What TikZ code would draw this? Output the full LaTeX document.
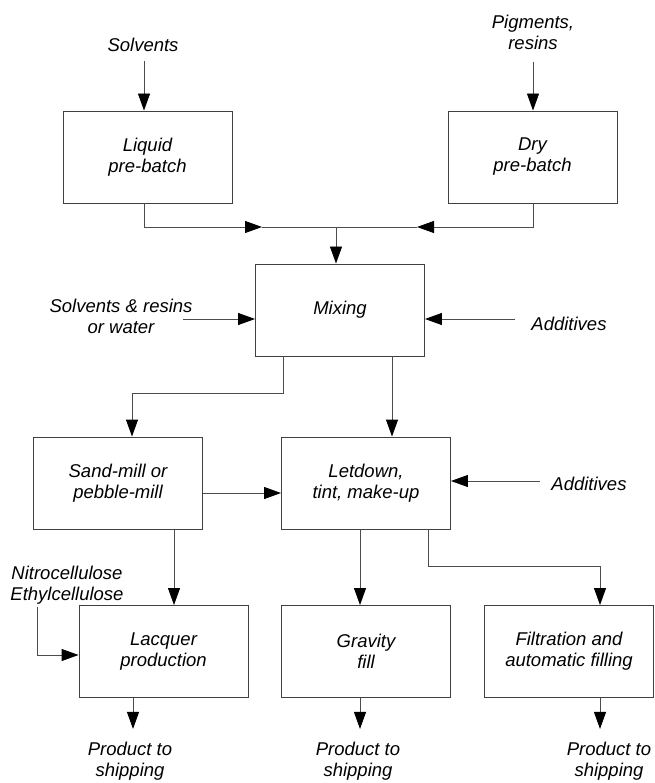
\documentclass[tikz,border=0pt]{standalone}
\usepackage{fontspec}
\setmainfont{Liberation Sans}
\usetikzlibrary{arrows.meta}
\tikzset{lbl/.style={font=\fontsize{18.5pt}{21pt}\selectfont\itshape,align=center},
  box/.style={lbl,draw=black!75,line width=.9pt,minimum width=169pt,minimum height=92pt,inner sep=2pt},
  feed/.style={lbl,inner sep=0pt},
  arrow/.style={draw=black!70,line width=.9pt,-{Triangle[length=17pt,width=12pt,color=black]}}}

\begin{document}
\begin{tikzpicture}[x=1pt,y=-1pt]
  \path[use as bounding box] (0,0) rectangle (654,783);
  % process boxes
  \node[box] (liquid) at (147.5,157) {Liquid\\pre-batch};
  \node[box] (dry) at (532.5,157) {Dry\\pre-batch};
  \node[box] (mixing) at (340,310) {Mixing};
  \node[box] (sand) at (118,483) {Sand-mill or\\pebble-mill};
  \node[box] (letdown) at (366,483) {Letdown,\\tint, make-up};
  \node[box] (lacquer) at (163.5,651.5) {Lacquer\\production};
  \node[box] (gravity) at (366,651.5) {Gravity\\fill};
  \node[box] (filtration) at (569,651.5) {Filtration and\\automatic filling};
  % feeds
  \node[feed] (solv) at (143,45) {Solvents};
  \node[feed] (pigm) at (533,32) {Pigments,\\resins};
  \node[feed] (solvres) at (121,316) {Solvents \& resins\\or water};
  \node[feed] (addA) at (569,324) {Additives};
  \node[feed] (addB) at (589,484) {Additives};
  \node[feed] (nitro) at (67,585) {Nitrocellulose\\Ethylcellulose};
  \node[feed] (prodA) at (130,761) {Product to\\shipping};
  \node[feed] (prodB) at (358,761) {Product to\\shipping};
  \node[feed] (prodC) at (609,761) {Product to\\shipping};
  % free ends
  \coordinate (solvIn) at (144,61);
  \coordinate (pigmIn) at (533,62);
  \coordinate (leftTip) at (262,227);
  \coordinate (rightTip) at (417,227);
  \coordinate (join) at (336,227);
  \coordinate (solvresIn) at (183,319);
  \coordinate (addAIn) at (515,319);
  \coordinate (addBIn) at (540,481);
  \coordinate (millTurn) at (283,393);
  \coordinate (fillTurn) at (428,566);
  \coordinate (nitroIn) at (37,607);
  % connectors
  \draw[arrow] (solvIn) -- (solvIn |- liquid.north);
  \draw[arrow] (pigmIn) -- (pigmIn |- dry.north);
  \draw[arrow] (solvIn |- liquid.south) |- (leftTip);
  \draw[arrow] (pigmIn |- dry.south) |- (rightTip);
  \draw[draw=black!70,line width=.9pt] (leftTip) -- (rightTip);
  \draw[arrow] (join) -- (join |- mixing.north);
  \draw[arrow] (solvresIn) -- (solvresIn -| mixing.west);
  \draw[arrow] (addAIn) -- (addAIn -| mixing.east);
  \draw[arrow] (millTurn |- mixing.south) -- (millTurn) -| ([xshift=14pt]sand.north);
  \draw[arrow] ([xshift=26pt]letdown.north |- mixing.south) -- ([xshift=26pt]letdown.north);
  \draw[arrow] ([yshift=-10pt]sand.east) -- ([yshift=-10pt]sand.east -| letdown.west);
  \draw[arrow] (addBIn) -- (addBIn -| letdown.east);
  \draw[arrow] ([xshift=10.5pt]lacquer.north |- sand.south) -- ([xshift=10.5pt]lacquer.north);
  \draw[arrow] (nitroIn) |- ([yshift=-3.5pt]lacquer.west);
  \draw[arrow] ([xshift=-6pt]gravity.north |- letdown.south) -- ([xshift=-6pt]gravity.north);
  \draw[arrow] (fillTurn |- letdown.south) -- (fillTurn) -| ([xshift=31pt]filtration.north);
  \foreach \b/\dx in {lacquer/-30.5,gravity/-6,filtration/31}{
    \coordinate (out) at ([xshift=\dx pt,yshift=-31pt]\b.south);
    \draw[arrow] (out |- \b.south) -- (out);
  }
\end{tikzpicture}
\end{document}
